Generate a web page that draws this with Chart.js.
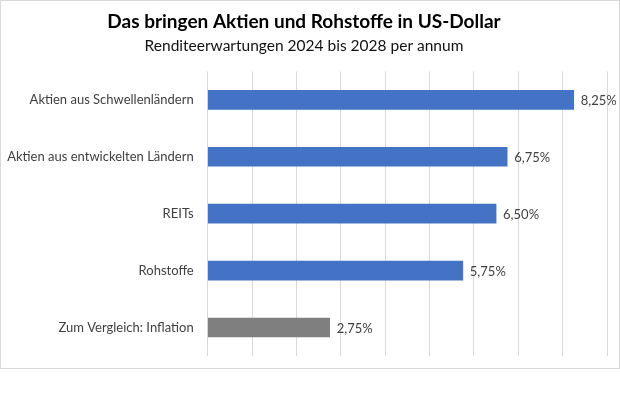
<!DOCTYPE html>
<html>
<head>
<meta charset="utf-8">
<script src="https://cdn.jsdelivr.net/npm/chart.js@4"></script>
<style>
  body { margin: 0; background: #fff; }
  #box { position: absolute; left: 0; top: 0; width: 618px; height: 367px; border: 1px solid #d9d9d9; }
</style>
</head>
<body>
<div id="box"><canvas id="myChart" width="618" height="367"></canvas></div>
<script>
var kategorien = ['Aktien aus Schwellenländern', 'Aktien aus entwickelten Ländern', 'REITs', 'Rohstoffe', 'Zum Vergleich: Inflation'];
var rendite = [8.25, 6.75, 6.50, 5.75, 2.75];
var farben = ['#4472C4', '#4472C4', '#4472C4', '#4472C4', '#7F7F7F'];
var xTicks = [0, 1, 2, 3, 4, 5, 6, 7, 8, 9];

// Werte rechts neben die Balken schreiben
var wertLabels = {
  id: 'wertLabels',
  afterDatasetsDraw: function(chart) {
    var ctx = chart.ctx;
    var meta = chart.getDatasetMeta(0);
    ctx.save();
    ctx.font = '13px Lato';
    ctx.fillStyle = '#404040';
    ctx.textAlign = 'left';
    ctx.textBaseline = 'middle';
    meta.data.forEach(function(bar, i) {
      var txt = rendite[i].toFixed(2).replace('.', ',') + '%';
      ctx.fillText(txt, bar.x + 7, bar.y + 1);
    });
    ctx.restore();
  }
};

var diagramm = document.getElementById('myChart').getContext('2d');
var chart = new Chart(diagramm, {
  type: 'bar',
  data: {
    labels: kategorien,
    datasets: [{
      data: rendite,
      backgroundColor: farben,
      borderWidth: 0,
      barThickness: 19
    }]
  },
  options: {
    indexAxis: 'y',
    responsive: false,
    animation: false,
    layout: { padding: { left: 0, right: 12, top: 0, bottom: 12 } },
    plugins: {
      legend: { display: false },
      tooltip: { enabled: false },
      title: {
        display: true,
        text: 'Das bringen Aktien und Rohstoffe in US-Dollar',
        color: '#000',
        font: { family: 'Lato', size: 19, weight: 'bold', lineHeight: 1.2 },
        padding: { top: 9, bottom: 0 }
      },
      subtitle: {
        display: true,
        text: 'Renditeerwartungen 2024 bis 2028 per annum',
        color: '#111',
        font: { family: 'Lato', size: 15.5, lineHeight: 1.2 },
        padding: { top: 4, bottom: 16 }
      }
    },
    scales: {
      x: {
        min: 0,
        max: 9,
        afterBuildTicks: function(scale) {
          scale.ticks = xTicks.map(function(v) { return { value: v }; });
        },
        ticks: { display: false },
        grid: { color: '#d9d9d9', drawTicks: false },
        border: { display: false },
        afterFit: function(scale) { scale.height = 0; }
      },
      y: {
        ticks: { color: '#404040', font: { family: 'Lato', size: 13 }, padding: 14 },
        grid: { display: false, drawTicks: false },
        border: { display: false },
        afterFit: function(scale) {
          scale.width = 206.7;
          scale.paddingTop = 0;
          scale.paddingBottom = 0;
        }
      }
    }
  },
  plugins: [wertLabels]
});
</script>
</body>
</html>
